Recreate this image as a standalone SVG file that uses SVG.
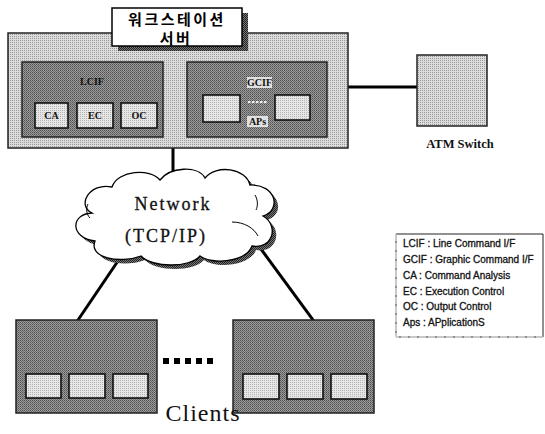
<svg xmlns="http://www.w3.org/2000/svg" width="545" height="434" viewBox="0 0 545 434">
  <style>
    .frame { stroke: #222; stroke-width: 1.5; }
    .inner { fill: url(#dotPale); stroke: #111; stroke-width: 1.6; }
    .link { stroke: #000; stroke-width: 3; fill: none; stroke-linecap: square; }
    .lbl { font-family: "Liberation Serif", serif; font-weight: bold; fill: #111; }
    .tag { font-family: "Liberation Serif", serif; font-weight: bold; font-size: 10px; fill: #111; }
    .title { font-family: "Noto Sans CJK KR", sans-serif; font-weight: bold; font-size: 15px; letter-spacing: 2.5px; fill: #000; }
    .legend { font-family: "Liberation Sans", Arial, sans-serif; font-size: 10px; fill: #111; stroke: #111; stroke-width: 0.3; }
  </style>
  <defs>
    <!-- halftone-like fills -->
    <pattern id="dotLight" width="2" height="2" patternUnits="userSpaceOnUse">
      <rect width="2" height="2" fill="#dcdcdc"/>
      <rect width="1" height="1" fill="#9a9a9a"/>
    </pattern>
    <pattern id="dotPale" width="2" height="2" patternUnits="userSpaceOnUse">
      <rect width="2" height="2" fill="#e6e6e6"/>
      <rect width="1" height="1" fill="#b4b4b4"/>
    </pattern>
    <pattern id="dotDark" width="2" height="2" patternUnits="userSpaceOnUse">
      <rect width="2" height="2" fill="#9c9c9c"/>
      <rect width="1" height="1" fill="#505050"/>
      <rect x="1" y="1" width="1" height="1" fill="#6a6a6a"/>
    </pattern>
    <pattern id="dotShadow" width="2" height="2" patternUnits="userSpaceOnUse">
      <rect width="2" height="2" fill="#777"/>
      <rect width="1" height="1" fill="#222"/>
      <rect x="1" y="1" width="1" height="1" fill="#222"/>
    </pattern>
    <path id="cloudShape" d="M 92 213 C 76 205 90 182 112 187 C 118 170 150 168 160 180 C 170 167 198 165 205 178 C 216 164 246 168 250 185 C 276 184 282 210 263 216 C 280 226 272 250 252 246 C 246 262 212 265 200 256 C 190 268 152 268 141 256 C 120 264 88 258 95 241 C 70 238 70 214 92 213 Z"/>
  </defs>

  <!-- connectors -->
  <g id="connectors">
    <line class="link" x1="348" y1="87" x2="417" y2="87"/>
    <line class="link" x1="173" y1="149" x2="173" y2="178"/>
    <line class="link" x1="120" y1="258" x2="78" y2="320"/>
    <line class="link" x1="258" y1="245" x2="313" y2="320"/>
  </g>

  <!-- workstation server -->
  <g id="server">
    <rect x="8" y="33" width="340" height="115" fill="url(#dotLight)" class="frame"/>
    <rect x="118" y="13" width="130" height="38" fill="url(#dotShadow)"/>
    <rect x="112" y="8" width="130" height="38" fill="#fff" stroke="#000" stroke-width="1.5"/>
    <text x="177" y="25" text-anchor="middle" class="title">워크스테이션</text>
    <text x="176" y="44" text-anchor="middle" class="title">서버</text>
  </g>

  <g id="lcif">
    <rect x="22" y="62" width="141" height="75" fill="url(#dotDark)" class="frame"/>
    <text x="92" y="85" text-anchor="middle" class="tag">LCIF</text>
    <rect x="35" y="103" width="33" height="25" class="inner"/>
    <rect x="77" y="103" width="36" height="25" class="inner"/>
    <rect x="121" y="103" width="36" height="25" class="inner"/>
    <text x="51.5" y="119" text-anchor="middle" class="tag">CA</text>
    <text x="95" y="119" text-anchor="middle" class="tag">EC</text>
    <text x="139" y="119" text-anchor="middle" class="tag">OC</text>
  </g>

  <g id="gcif">
    <rect x="187" y="62" width="140" height="75" fill="url(#dotDark)" class="frame"/>
    <rect x="247" y="77" width="25" height="11" fill="#e0e0e0"/>
    <text x="259.5" y="86" text-anchor="middle" class="tag">GCIF</text>
    <rect x="203" y="95" width="37" height="27" class="inner"/>
    <rect x="275" y="95" width="35" height="25" class="inner"/>
    <line x1="248" y1="102" x2="268" y2="102" stroke="#eee" stroke-width="2" stroke-dasharray="2.5 1.5"/>
    <rect x="247" y="116" width="21" height="11" fill="#e0e0e0"/>
    <text x="257.5" y="125" text-anchor="middle" class="tag">APs</text>
  </g>

  <!-- ATM switch -->
  <g id="atm">
    <rect x="417" y="55" width="70" height="71" fill="url(#dotLight)" class="frame"/>
    <text x="460" y="148" text-anchor="middle" class="lbl" font-size="12.5">ATM Switch</text>
  </g>

  <!-- network cloud -->
  <g id="network">
    <use href="#cloudShape" transform="translate(4 4)" fill="url(#dotShadow)"/>
    <use href="#cloudShape" fill="#fff" stroke="#000" stroke-width="1.3"/>
    <path d="M 88 204 C 86 208 86 214 90 218" fill="none" stroke="#000" stroke-width="1"/>
    <path d="M 232 222 C 244 222 254 228 258 236" fill="none" stroke="#000" stroke-width="1"/>
    <path d="M 255 195 C 258 200 258 206 256 210" fill="none" stroke="#000" stroke-width="1"/>
    <text x="173" y="210" text-anchor="middle" font-family="'Liberation Serif', serif" font-size="18" letter-spacing="2" fill="#111" stroke="#111" stroke-width="0.3">Network</text>
    <text x="166" y="242" text-anchor="middle" font-family="'Liberation Serif', serif" font-size="18" letter-spacing="2" fill="#111" stroke="#111" stroke-width="0.3">(TCP/IP)</text>
  </g>

  <!-- clients -->
  <g id="client1">
    <rect x="16" y="320" width="141" height="93" fill="url(#dotDark)" class="frame"/>
    <rect x="26" y="374" width="35" height="24" class="inner"/>
    <rect x="69" y="374" width="36" height="24" class="inner"/>
    <rect x="113" y="374" width="35" height="24" class="inner"/>
  </g>
  <g id="client2">
    <rect x="233" y="320" width="141" height="93" fill="url(#dotDark)" class="frame"/>
    <rect x="243" y="374" width="36" height="25" class="inner"/>
    <rect x="287" y="374" width="36" height="25" class="inner"/>
    <rect x="331" y="374" width="36" height="25" class="inner"/>
  </g>
  <g id="ellipsis" fill="#000">
    <rect x="163" y="358" width="6" height="6"/>
    <rect x="174" y="358" width="6" height="6"/>
    <rect x="185" y="358" width="6" height="6"/>
    <rect x="196" y="358" width="6" height="6"/>
    <rect x="207" y="358" width="6" height="6"/>
  </g>
  <text x="203" y="421" text-anchor="middle" font-family="'Liberation Serif', serif" font-size="24" letter-spacing="1" fill="#111">Clients</text>

  <!-- legend -->
  <g id="legend">
    <path d="M 396 234 H 543 V 337 H 396 Z" fill="#fff" stroke="#222" stroke-width="1"/>
    <path d="M 396 234 V 337 H 543" fill="none" stroke="#fff" stroke-width="1" stroke-dasharray="7 2"/>
    <text x="403" y="247" class="legend">LCIF : Line Command I/F</text>
    <text x="403" y="263" class="legend">GCIF : Graphic Command I/F</text>
    <text x="403" y="279" class="legend">CA : Command Analysis</text>
    <text x="403" y="295" class="legend">EC : Execution Control</text>
    <text x="403" y="310" class="legend">OC : Output Control</text>
    <text x="403" y="326" class="legend">Aps : APplicationS</text>
  </g>
</svg>
